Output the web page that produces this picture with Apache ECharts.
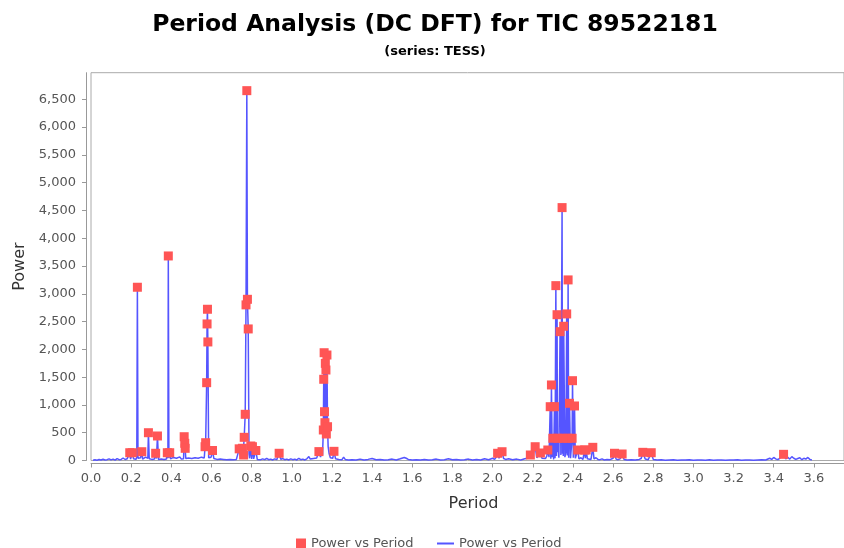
<!DOCTYPE html>
<html>
<head>
<meta charset="utf-8">
<script src="https://cdn.jsdelivr.net/npm/echarts@6/dist/echarts.min.js"></script>
<style>html,body{margin:0;padding:0;background:#fff}#c{width:844px;height:548px}</style>
</head>
<body>
<div id="c"></div>
<script>
// Top hits (red squares): period, power
const hitPeriods = [0.193,0.206,0.231,0.253,0.286,0.322,0.331,0.380,0.385,0.392,0.464,0.467,0.469,
  0.568,0.571,0.576,0.578,0.580,0.582,0.605,
  0.738,0.754,0.760,0.763,0.768,0.772,0.776,0.779,0.783,0.796,0.804,0.821,0.937,
  1.135,1.157,1.159,1.161,1.163,1.165,1.167,1.170,1.172,1.175,1.178,1.210,
  2.025,2.047,2.188,2.212,2.238,2.275,
  2.287,2.293,2.300,2.308,2.315,2.321,2.325,2.336,2.346,2.350,2.354,2.369,2.374,2.376,2.383,2.396,2.398,2.408,
  2.424,2.458,2.466,2.499,2.607,2.645,2.748,2.790,3.449];
const hitPowers = [140,140,3117,158,500,130,441,140,3680,140,428,309,219,
  248,320,1400,2457,2721,2133,180,
  210,220,99,417,831,2800,6654,2900,2367,261,248,180,130,
  160,549,1461,1939,878,680,1748,1628,477,1898,608,165,
  130,158,99,248,135,189,
  968,1359,400,968,3146,2623,400,2318,4550,400,2415,2637,400,3249,1029,400,1436,981,
  189,189,189,237,130,117,147,140,111];

// Periodogram line (points other than top hits): period, power
const linePeriods = [0.01,0.02,0.03,0.04,0.05,0.06,0.07,0.08,0.09,0.10,0.11,0.12,0.13,0.14,0.15,0.16,0.17,0.18,0.187,
  0.197,0.202,0.212,0.218,0.224,0.228,0.234,0.240,0.247,0.257,0.264,0.272,0.279,0.283,0.290,0.296,0.303,0.310,0.316,
  0.326,0.336,0.342,0.350,0.357,0.364,0.370,0.376,0.383,0.388,0.396,0.402,0.410,0.418,0.426,0.434,0.442,0.450,0.457,0.461,
  0.472,0.479,0.486,0.494,0.502,0.510,0.518,0.526,0.534,0.542,0.550,0.557,0.564,0.566,
  0.586,0.592,0.598,0.612,0.620,0.628,0.636,0.644,0.652,0.660,0.668,0.676,0.684,0.692,0.700,0.708,0.716,0.724,0.732,
  0.745,0.750,0.757,0.787,0.790,0.800,0.810,0.815,0.828,0.836,0.845,0.855,0.865,0.875,0.885,0.895,0.905,0.915,0.925,0.932,
  0.945,0.955,0.965,0.975,0.985,0.995,1.005,1.015,1.025,1.035,1.045,1.055,1.065,1.075,1.085,1.092,1.100,1.108,1.116,1.124,1.130,
  1.143,1.149,1.153,1.181,1.186,1.192,1.198,1.204,1.218,1.226,1.234,1.242,1.250,1.258,1.266,1.274,1.282,1.290,
  1.30,1.32,1.34,1.36,1.38,1.40,1.42,1.44,1.46,1.48,1.50,1.52,1.54,1.56,1.57,1.58,1.60,1.62,1.64,1.66,1.68,1.70,1.72,1.74,1.76,1.78,
  1.80,1.82,1.84,1.86,1.88,1.90,1.92,1.94,1.96,1.98,2.00,2.010,2.018,2.032,2.040,2.055,2.065,2.080,2.100,2.120,2.140,2.160,2.175,
  2.195,2.203,2.220,2.228,2.246,2.255,2.263,2.270,2.281,
  2.290,2.297,2.304,2.311,2.318,2.323,2.330,2.340,2.348,2.352,2.360,2.365,2.372,2.379,2.388,2.393,2.402,2.405,2.412,2.418,
  2.430,2.440,2.450,2.462,2.472,2.480,2.490,2.505,2.515,2.525,2.535,2.545,2.555,2.570,2.585,2.600,2.615,2.625,2.635,2.655,2.670,2.690,2.710,2.730,2.740,2.760,2.775,
  2.80,2.82,2.84,2.86,2.88,2.90,2.92,2.94,2.96,2.98,3.00,3.02,3.04,3.06,3.08,3.10,3.12,3.14,3.16,3.18,3.20,3.22,3.24,3.26,3.28,3.30,3.32,3.34,3.36,
  3.38,3.39,3.40,3.41,3.42,3.43,3.46,3.47,3.48,3.49,3.50,3.51,3.52,3.53,3.54,3.55,3.56,3.57,3.58,3.59];
const linePowers = [5,12,6,18,8,22,10,15,30,12,25,8,35,15,20,45,18,30,20,
  25,15,30,45,20,60,40,20,50,25,35,60,25,40,30,55,20,40,25,
  35,20,50,25,60,20,45,25,40,50,30,20,55,25,40,20,65,25,40,30,
  35,20,45,15,35,20,50,25,40,20,60,25,45,70,
  50,30,60,35,55,20,40,25,55,20,35,15,45,20,35,15,50,20,40,
  60,35,80,120,40,30,30,45,20,35,15,30,15,40,15,25,10,30,15,25,
  20,35,15,25,10,30,15,25,10,40,15,25,10,30,70,25,15,35,20,45,25,
  60,150,90,250,120,50,70,40,30,45,20,35,15,60,20,35,10,25,
  15,8,25,10,20,35,12,20,8,15,25,10,30,55,40,20,10,15,8,20,10,15,25,8,15,30,
  12,20,10,15,25,10,20,8,30,15,40,20,60,40,70,35,20,30,15,25,10,30,40,
  30,60,50,30,40,70,35,80,60,
  30,60,20,40,80,150,50,100,120,80,60,150,90,50,40,70,50,30,40,60,
  30,50,20,40,30,45,20,30,50,20,15,30,10,20,15,40,25,15,30,20,10,15,8,20,35,25,15,
  20,8,12,5,10,15,5,10,8,15,5,10,8,5,12,5,10,8,5,10,8,12,5,10,8,5,10,15,10,
  40,20,55,30,15,40,30,60,25,70,40,20,35,50,15,40,25,55,20,10];

const FONT = 'DejaVu Sans';
const hitData = hitPeriods.map((p, i) => [p, hitPowers[i]]);
const lineData = linePeriods.map((p, i) => [p, linePowers[i]]).concat(hitData).sort((a, b) => a[0] - b[0]);

const chart = echarts.init(document.getElementById('c'), null, {renderer: 'canvas'});
chart.setOption({
  animation: false,
  backgroundColor: '#fff',
  title: [
    {text: 'Period Analysis (DC DFT) for TIC 89522181', left: 430, top: 8, textAlign: 'center',
     textStyle: {fontFamily: FONT, fontSize: 23.5, fontWeight: 'bold', color: '#000'}},
    {text: '(series: TESS)', left: 430, top: 40, textAlign: 'center',
     textStyle: {fontFamily: FONT, fontSize: 13, fontWeight: 'bold', color: '#000'}}
  ],
  legend: [
    {data: [{name: 'Power vs Period', icon: 'rect'}], left: 291, top: 532, itemWidth: 10, itemHeight: 10,
     textStyle: {fontFamily: FONT, fontSize: 13, color: '#555'}},
    {data: [{name: 'Power vs Period ', icon: 'rect'}], left: 432, top: 532, itemWidth: 17, itemHeight: 2,
     formatter: n => n.trim(), textStyle: {fontFamily: FONT, fontSize: 13, color: '#555'}}
  ],
  grid: {left: 91, top: 72.7, right: 0, bottom: 87.5, show: true, borderColor: '#aaa', borderWidth: 1, backgroundColor: '#fff'},
  xAxis: {
    type: 'value', min: 0, max: 3.75, interval: 0.2, offset: 3,
    axisLine: {show: true, onZero: false, lineStyle: {color: '#999'}},
    axisTick: {show: true, length: 4, lineStyle: {color: '#999'}},
    axisLabel: {margin: 9, color: '#555', fontFamily: FONT, fontSize: 13, showMaxLabel: false,
      formatter: v => Math.abs(v / 0.2 - Math.round(v / 0.2)) < 1e-6 ? v.toFixed(1) : ''},
    splitLine: {show: false},
    name: 'Period', nameLocation: 'middle', nameGap: 32,
    nameTextStyle: {fontFamily: FONT, fontSize: 16, color: '#333', padding: [0, 0, 0, 12]}
  },
  yAxis: {
    type: 'value', min: 0, max: 6977, interval: 500, offset: 5,
    axisLine: {show: true, onZero: false, lineStyle: {color: '#999'}},
    axisTick: {show: true, length: 4, lineStyle: {color: '#999'}},
    axisLabel: {margin: 10, color: '#555', fontFamily: FONT, fontSize: 13, showMaxLabel: false,
      formatter: v => v % 500 === 0 ? v.toLocaleString('en-US') : ''},
    splitLine: {show: false},
    name: 'Power', nameLocation: 'middle', nameGap: 57, nameRotate: 90,
    nameTextStyle: {fontFamily: FONT, fontSize: 16, color: '#333'}
  },
  series: [
    {name: 'Power vs Period', type: 'scatter', data: hitData, symbol: 'rect', symbolSize: 9,
     itemStyle: {color: '#ff5555', opacity: 1}, z: 3},
    {name: 'Power vs Period ', type: 'line', data: lineData, showSymbol: false, symbol: 'none',
     lineStyle: {color: '#5555ff', width: 1.5}, itemStyle: {color: '#5555ff'}, z: 2}
  ]
});
</script>
</body>
</html>
